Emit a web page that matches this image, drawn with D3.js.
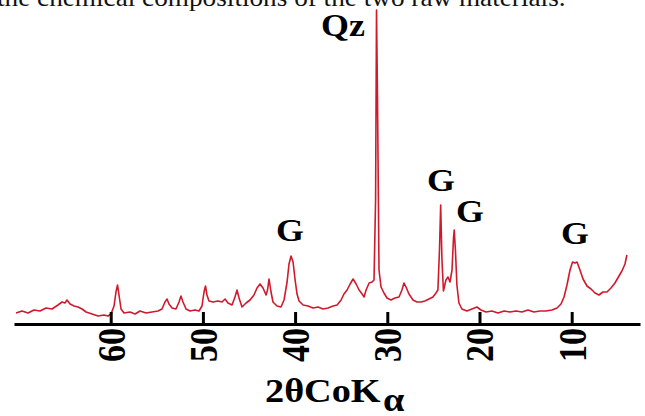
<!DOCTYPE html>
<html>
<head>
<meta charset="utf-8">
<script src="https://cdn.jsdelivr.net/npm/d3@7"></script>
<style>
    html, body { margin: 0; padding: 0; background: #fff; }
    svg { display: block; font-family: "Liberation Serif", "Times New Roman", serif; }
</style>
</head>
<body>
<div id="chart"></div>
<script>
"use strict";

// diffraction pattern (2theta in degrees, intensity in a.u.)
const twoTheta = [
    70.27, 69.62, 68.97, 68.32, 67.67, 67.02, 66.37, 65.72, 65.28, 64.96,
    64.74, 64.41, 63.97, 63.54, 63.11, 62.67, 62.02, 61.38, 60.73, 60.29,
    59.97, 59.64, 59.43, 59.26, 59.10, 58.88, 58.56, 57.91, 57.36, 56.82,
    56.17, 55.52, 54.87, 54.44, 54.11, 53.89, 53.68, 53.35, 52.92, 52.59,
    52.38, 52.16, 51.83, 51.40, 50.86, 50.42, 50.10, 49.88, 49.72, 49.56,
    49.34, 48.90, 48.36, 47.93, 47.60, 47.28, 46.84, 46.52, 46.30, 46.08,
    45.76, 45.32, 44.89, 44.46, 44.13, 43.80, 43.48, 43.15, 42.99, 42.83,
    42.61, 42.40, 41.96, 41.53, 41.20, 40.87, 40.66, 40.44, 40.22, 40.00,
    39.79, 39.57, 39.13, 38.59, 38.05, 37.51, 36.97, 36.42, 35.88, 35.45,
    35.01, 34.70, 34.36, 34.03, 33.71, 33.38, 33.06, 32.73, 32.52, 32.30,
    31.97, 31.65, 31.44, 31.27, 31.17, 31.06, 30.90, 30.68, 30.36, 30.03,
    29.60, 29.17, 28.73, 28.41, 28.19, 27.97, 27.65, 27.21, 26.78, 26.35,
    25.91, 25.48, 25.05, 24.72, 24.51, 24.34, 24.21, 24.07, 23.91, 23.64,
    23.42, 23.20, 22.98, 22.82, 22.74, 22.61, 22.45, 22.23, 21.91, 21.36,
    20.82, 20.28, 19.84, 19.30, 18.65, 17.99, 17.34, 16.69, 16.04, 15.39,
    14.74, 14.09, 13.44, 12.79, 12.14, 11.59, 11.16, 10.83, 10.51, 10.18,
    9.91, 9.64, 9.42, 9.10, 8.77, 8.34, 7.90, 7.47, 7.04, 6.61,
    6.17, 5.74, 5.31, 4.87, 4.55, 4.22, 4.01
];

const intensity = [
    11, 13, 11, 14, 13, 16, 15, 19, 22, 21,
    24, 20, 18, 17, 15, 12, 10, 8, 9, 8,
    10, 18, 32, 39, 29, 15, 11, 12, 10, 13,
    11, 12, 13, 15, 22, 25, 20, 16, 15, 22,
    28, 22, 15, 13, 14, 13, 18, 32, 38, 29,
    23, 22, 23, 22, 25, 21, 19, 27, 34, 26,
    17, 21, 24, 29, 36, 40, 36, 29, 34, 45,
    32, 22, 18, 17, 24, 42, 60, 68, 62, 44,
    30, 23, 19, 18, 16, 17, 15, 16, 18, 19,
    24, 30, 34, 40, 45, 40, 34, 30, 27, 34,
    41, 42, 44, 124, 314, 224, 54, 37, 31, 26,
    24, 26, 27, 34, 41, 37, 30, 24, 22, 22,
    23, 25, 27, 31, 34, 74, 119, 64, 33, 44,
    47, 42, 54, 86, 94, 74, 39, 21, 15, 13,
    15, 17, 14, 12, 13, 11, 13, 12, 13, 12,
    14, 12, 13, 13, 14, 16, 20, 27, 39, 54,
    62, 61, 62, 54, 45, 38, 35, 31, 29, 32,
    32, 36, 41, 48, 53, 60, 69
];

const tickValues = [60, 50, 40, 30, 20, 10];

// phase marks: text, 2theta and intensity of the label anchor
const peakLabels = ["Qz", "G", "G", "G", "G"];
const peakLabelAngle = [34.8, 40.55, 24.17, 21.03, 9.64];
const peakLabelLevel = [288, 83, 133, 102, 80];

const captionText = "the chemical compositions of the two raw materials.";

(function () {
    let width = 645;
    let height = 416;
    let stretch = 1.16; // the scanned figure is wider than tall

    let svg = d3.select("#chart").append("svg").attr("width", width).attr("height", height);

    let x = d3.scaleLinear().domain([70.49, 2.59]).range([14, 640]);
    let y = d3.scaleLinear().domain([0, 320]).range([324, 4]);

    // caption line of the page, cut at the top
    svg.append("text")
        .attr("transform", "translate(-3,6) scale(1.09,1)")
        .attr("font-size", 25)
        .attr("fill", "#111")
        .text(captionText);

    let points = twoTheta.map((t, i) => [t, intensity[i]]);
    let line = d3
        .line()
        .x((d) => x(d[0]))
        .y((d) => y(d[1]));

    svg.append("path")
        .datum(points)
        .attr("d", line)
        .attr("fill", "none")
        .attr("stroke", "#d01a2c")
        .attr("stroke-width", 1.6)
        .attr("stroke-linejoin", "round");

    let axis = d3.axisBottom(x).tickValues(tickValues).tickSizeInner(-12).tickSizeOuter(0);
    let axisGroup = svg.append("g").attr("transform", "translate(0,324)").call(axis);
    axisGroup.select(".domain").attr("stroke", "#000").attr("stroke-width", 3);
    axisGroup.selectAll(".tick line").attr("stroke", "#000").attr("stroke-width", 3);
    axisGroup
        .selectAll(".tick text")
        .attr("x", 0)
        .attr("y", 0)
        .attr("dy", "0.34em")
        .attr("transform", `translate(0,4) scale(${stretch},1) rotate(-90)`)
        .attr("text-anchor", "end")
        .attr("font-family", "Liberation Serif, serif")
        .attr("font-weight", "bold")
        .attr("font-size", 34)
        .attr("fill", "#000");

    // axis title 2θCoKα
    let title = svg.append("text")
        .attr("transform", `translate(265,402) scale(${stretch},1)`)
        .attr("font-weight", "bold")
        .attr("font-size", 33)
        .attr("fill", "#000");
    title.append("tspan").text("2θCoK");
    title.append("tspan").attr("dx", 2).attr("dy", 9).attr("font-size", 33).text("α");

    svg.selectAll(".peak-label")
        .data(peakLabels)
        .enter()
        .append("text")
        .attr("class", "peak-label")
        .attr("transform", (d, i) => `translate(${x(peakLabelAngle[i])},${y(peakLabelLevel[i])}) scale(${stretch},1)`)
        .attr("text-anchor", "middle")
        .attr("font-weight", "bold")
        .attr("font-size", 31)
        .attr("fill", "#000")
        .text((d) => d);
})();
</script>
</body>
</html>
